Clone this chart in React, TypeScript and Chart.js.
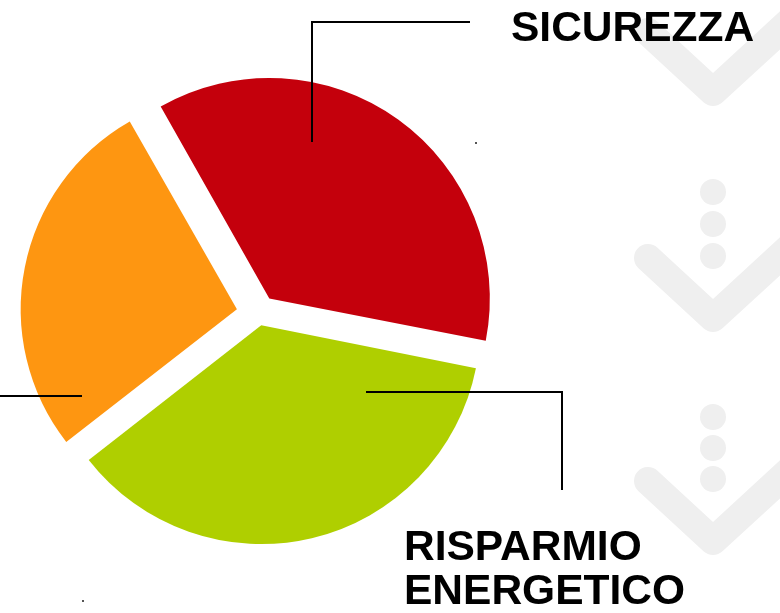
import React, { useEffect, useRef } from "react";
import { Chart, registerables } from "chart.js";

Chart.register(...registerables);

// ---- data ----
const categories = ["SICUREZZA", "RISPARMIO ENERGETICO", ""];
const values = [4, 4, 3];
const sliceColors = ["#C4000C", "#AFCF00", "#FE9611"];
const sliceOffsets = [74, 48, 88];
const labelLines = [["SICUREZZA"], ["RISPARMIO", "ENERGETICO"], []];

const W = 780;
const H = 613;

const backgroundPlugin = {
  id: "bgDecor",
  beforeDraw(chart: any) {
    const ctx = chart.ctx as CanvasRenderingContext2D;
    ctx.save();
    ctx.fillStyle = "#ffffff";
    ctx.fillRect(0, 0, W, H);
    ctx.strokeStyle = "#EFEFEF";
    ctx.fillStyle = "#EFEFEF";
    ctx.lineWidth = 28;
    ctx.lineCap = "round";
    ctx.lineJoin = "round";
    const chevrons = [92, 318, 541];
    chevrons.forEach((vy) => {
      ctx.beginPath();
      ctx.moveTo(648, vy - 60);
      ctx.lineTo(713, vy);
      ctx.lineTo(800, vy - 80);
      ctx.stroke();
    });
    const dots = [192, 224, 256, 417, 448, 479];
    dots.forEach((dy) => {
      ctx.beginPath();
      ctx.arc(713, dy, 13, 0, Math.PI * 2);
      ctx.fill();
    });
    ctx.restore();
  },
};

const labelPlugin = {
  id: "leaderLabels",
  afterDraw(chart: any) {
    const ctx = chart.ctx as CanvasRenderingContext2D;
    ctx.save();
    ctx.strokeStyle = "#000000";
    ctx.lineWidth = 2;
    // leader lines
    ctx.beginPath();
    ctx.moveTo(312, 142);
    ctx.lineTo(312, 22);
    ctx.lineTo(470, 22);
    ctx.stroke();
    ctx.beginPath();
    ctx.moveTo(366, 392);
    ctx.lineTo(562, 392);
    ctx.lineTo(562, 490);
    ctx.stroke();
    ctx.beginPath();
    ctx.moveTo(0, 396);
    ctx.lineTo(82, 396);
    ctx.stroke();
    // tiny marks
    ctx.fillStyle = "#555";
    ctx.fillRect(475, 142, 2, 2);
    ctx.fillRect(82, 600, 2, 2);
    // labels
    ctx.fillStyle = "#000000";
    ctx.font = "bold 42.5px 'Liberation Sans', Arial, sans-serif";
    ctx.textBaseline = "alphabetic";
    ctx.textAlign = "left";
    labelLines[0].forEach((t, i) => ctx.fillText(t, 511, 41 + i * 44));
    labelLines[1].forEach((t, i) => ctx.fillText(t, 404, 560 + i * 44));
    ctx.restore();
  },
};

export default function App() {
  const ref = useRef<HTMLCanvasElement | null>(null);
  useEffect(() => {
    document.body.style.margin = "0";
    const canvas = ref.current!;
    const chart = new Chart(canvas, {
      type: "pie",
      data: {
        labels: categories,
        datasets: [
          {
            data: values,
            backgroundColor: sliceColors,
            borderWidth: 0,
            offset: sliceOffsets,
            hoverOffset: 0,
          },
        ],
      },
      options: {
        responsive: false,
        animation: false,
        rotation: -29.7,
        radius: 216,
        layout: { padding: { left: 0, right: 263, top: 14, bottom: 0 } },
        plugins: {
          legend: { display: false },
          tooltip: { enabled: false },
          title: { display: false },
        },
        events: [],
      },
      plugins: [backgroundPlugin, labelPlugin],
    } as any);
    return () => chart.destroy();
  }, []);
  return (
    <div style={{ position: "absolute", left: 0, top: 0, width: W, height: H }}>
      <canvas ref={ref} width={W} height={H} style={{ display: "block" }} />
    </div>
  );
}
